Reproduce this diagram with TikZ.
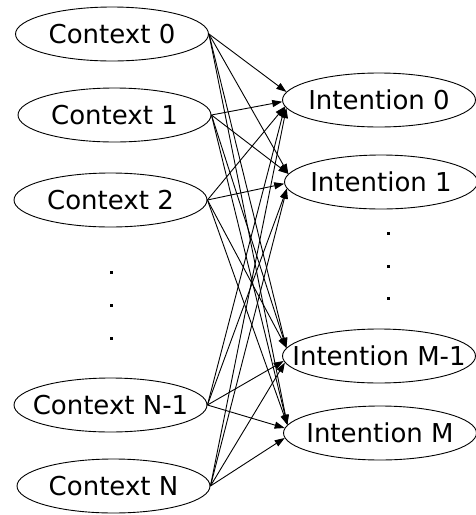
\documentclass[tikz,border=0pt]{standalone}
\usepackage{fontspec}
\setmainfont{DejaVu Sans}
\usetikzlibrary{arrows.meta,shapes.geometric}
\begin{document}
\begin{tikzpicture}[x=1pt,y=-1pt,
  ctx/.style={draw,ellipse,line width=0.9pt,inner sep=0pt,minimum width=193pt,minimum height=54pt,font=\fontsize{26}{31}\selectfont},
  edge/.style={line width=0.9pt,-{Triangle[length=10pt,width=7pt]}},
  dot/.style={fill,inner sep=0pt,minimum size=3pt,rectangle}]
\useasboundingbox (0,0) rectangle (475,515);
\node[ctx] (c0) at (112,34) {\makebox[0pt]{Context 0}};
\node[ctx] (c1) at (114.5,115) {\makebox[0pt]{Context 1}};
\node[ctx] (c2) at (110.5,200) {\makebox[0pt]{Context 2}};
\node[ctx] (cn1) at (110.5,405) {\makebox[0pt]{Context N-1}};
\node[ctx] (cn) at (113.5,486) {\makebox[0pt]{Context N}};
\node[ctx] (i0) at (379,100) {\makebox[0pt]{Intention 0}};
\node[ctx] (i1) at (381,182) {\makebox[0pt]{Intention 1}};
\node[ctx] (im1) at (379,356) {\makebox[0pt]{Intention M-1}};
\node[ctx] (im) at (380,433) {\makebox[0pt]{Intention M}};
\node[dot] (ld1) at (111,272) {};
\node[dot] (ld2) at (111,305) {};
\node[dot] (ld3) at (111,338) {};
\node[dot] (rd1) at (388,233) {};
\node[dot] (rd2) at (388,266) {};
\node[dot] (rd3) at (388,298) {};
\foreach \c/\cy in {c0/34, c1/115, c2/200, cn1/405, cn/486} {
  \foreach \i/\iy in {i0/100, i1/182, im1/356, im/433} {
    \pgfmathsetmacro\ang{180 - 5*tanh((\iy-\cy)/60)}
    \draw[edge] (\c.east) -- (\i.\ang);
  }
}
\end{tikzpicture}
\end{document}
